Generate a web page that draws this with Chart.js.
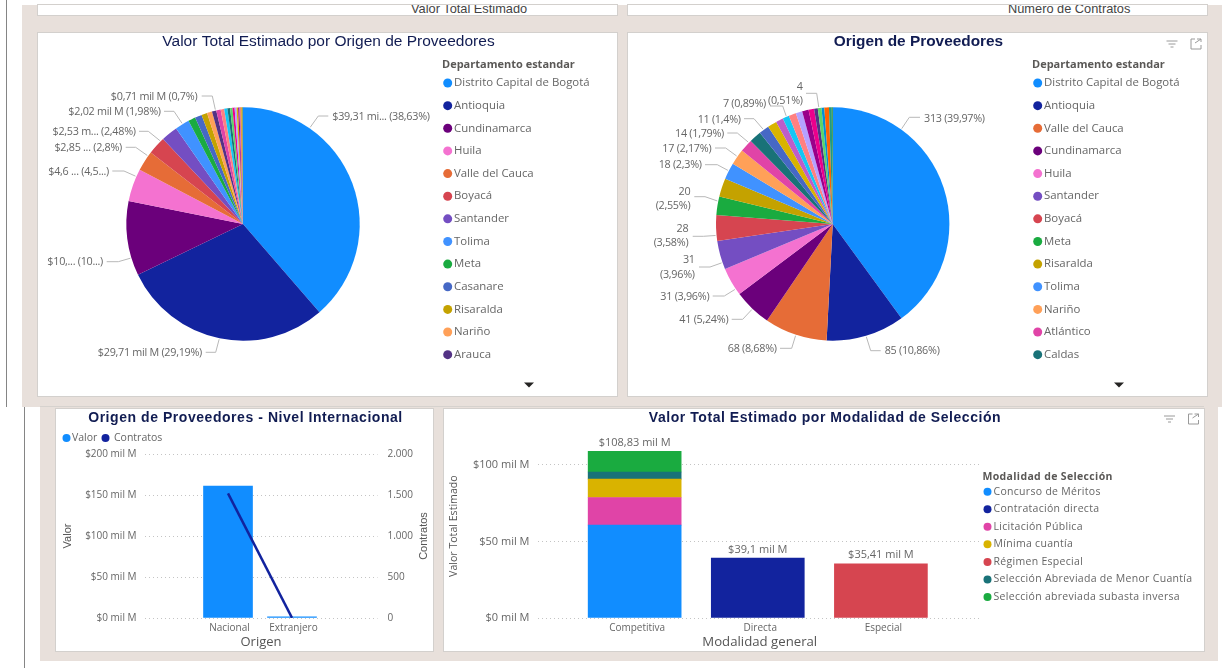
<!DOCTYPE html>
<html><head><meta charset="utf-8">
<script src="https://cdn.jsdelivr.net/npm/chart.js@4/dist/chart.umd.min.js"></script>
<style>
html,body{margin:0;padding:0;background:#fff;width:1225px;height:668px;overflow:hidden}
#stage{position:absolute;left:0;top:0;width:1225px;height:668px;overflow:hidden;filter:blur(.35px)}
.a{position:absolute}
.beige{background:#E8E0DB}
.panel{background:#fff;box-shadow:0 0 0 1px #d3d0cd}
canvas{position:absolute;left:0;top:0}
.stub{font:12.8px "Liberation Sans",Arial,sans-serif;color:#444;white-space:nowrap;overflow:hidden}
.stub span{position:absolute;top:-3px;line-height:13px}
</style></head><body>
<div id="stage">
  <div class="a" style="left:6px;top:0;width:1.4px;height:407px;background:#858585"></div>
  <div class="a" style="left:24px;top:407px;width:1.4px;height:261px;background:#858585"></div>
  <div class="a beige" style="left:22px;top:5px;width:1199.5px;height:402px"></div>
  <div class="a beige" style="left:40px;top:407px;width:1178px;height:254px"></div>
  <div class="a" style="left:40px;top:406px;width:1164px;height:1px;background:#d6d2ce"></div>
  <div class="a panel stub" style="left:38px;top:5px;width:579px;height:10px"><span id="stub1" style="left:373px"></span></div>
  <div class="a panel stub" style="left:628px;top:5px;width:579px;height:10px"><span id="stub2" style="left:380px"></span></div>
  <div class="a panel" style="left:38px;top:33px;width:579px;height:363px"><canvas id="pieA" width="579" height="363"></canvas></div>
  <div class="a panel" style="left:628px;top:33px;width:579px;height:363px"><canvas id="pieB" width="579" height="363"></canvas></div>
  <div class="a panel" style="left:55.5px;top:409px;width:377px;height:242px"><canvas id="combo" width="377" height="242"></canvas></div>
  <div class="a panel" style="left:443.5px;top:409px;width:760px;height:242px"><canvas id="stack" width="760" height="242"></canvas></div>
</div>
<script>
// ---------- data ----------
const stubTitles = ['Valor Total Estimado','Número de Contratos'];

const deptsA = ['Distrito Capital de Bogotá','Antioquia','Cundinamarca','Huila','Valle del Cauca','Boyacá','Santander','Tolima','Meta','Casanare','Risaralda','Nariño','Arauca'];
const valuesA = [39.31,29.71,10.53,4.6,2.85,2.53,2.34,2.02,1.02,0.97,0.81,0.71,0.61,0.62,0.5,0.45,0.38,0.33,0.3,0.27,0.22,0.18,0.14,0.12,0.1,0.08,0.06];
const colorsA = ['#118DFF','#12239E','#6B007B','#F472D0','#E66C37','#D64550','#744EC2','#4092FF','#1AAB40','#4668C5','#C4A200','#FFA058','#533285','#E044A7','#FF8080','#15C6F4','#197278','#5BD667','#EC008C','#B5A1FF','#D9B300','#99008A','#BE5DC9','#FF6300','#C4A200','#1F9A85','#99700A'];
const sliceLabelsA = ['$39,31 mi... (38,63%)','$29,71 mil M (29,19%)','$10,... (10...)','$4,6 ... (4,5...)','$2,85 ... (2,8%)','$2,53 m... (2,48%)','$2,02 mil M (1,98%)','$0,71 mil M (0,7%)'];

const deptsB = ['Distrito Capital de Bogotá','Antioquia','Valle del Cauca','Cundinamarca','Huila','Santander','Boyacá','Meta','Risaralda','Tolima','Nariño','Atlántico','Caldas'];
const valuesB = [313,85,68,41,31,31,28,20,20,18,17,14,13,11,10,8,7,8,7,7,6,4,4,3,5,3,1];
const colorsB = ['#118DFF','#12239E','#E66C37','#6B007B','#F472D0','#744EC2','#D64550','#1AAB40','#C4A200','#4092FF','#FFA058','#E044A7','#197278','#4668C5','#D9B300','#BE5DC9','#15C6F4','#FF8080','#B5A1FF','#99008A','#EC008C','#533285','#5BD667','#0091D5','#FF6300','#1F9A85','#25891C'];
const sliceLabelsB = [['313 (39,97%)'],['85 (10,86%)'],['68 (8,68%)'],['41 (5,24%)'],['31 (3,96%)'],['31','(3,96%)'],['28','(3,58%)'],['20','(2,55%)'],['18 (2,3%)'],['17 (2,17%)'],['14 (1,79%)'],['11 (1,4%)'],['7 (0,89%)'],['4','(0,51%)']];

const origins = ['Nacional','Extranjero'];
const originValor = [161,1.5];
const originContratos = [1520,2];

const modalGroups = ['Competitiva','Directa','Especial'];
const modalNames = ['Concurso de Méritos','Contratación directa','Licitación Pública','Mínima cuantía','Régimen Especial','Selección Abreviada de Menor Cuantía','Selección abreviada subasta inversa'];
const modalColors = ['#118DFF','#12239E','#E044A7','#D9B300','#D64550','#197278','#1AAB40'];
const modalGroupOf = [0,1,0,0,2,0,0];
const modalValues = [60.7,39.1,18,12,35.41,4.7,13.43];
const modalTotals = ['$108,83 mil M','$39,1 mil M','$35,41 mil M'];

// ---------- label layout (panel pixels) ----------
// [angle on the circle, elbow x, elbow y, line end x, text x, text y…]
const leaderA = [[34.8,280.3,83,290.3,294.3,84.3],[191.7,177.7,319.3,167.7,164,320.3],[253.1,80.3,228.7,68.7,65,229],[294,86,138,74.3,71,139.3],[305.6,97.7,114.3,87.7,84,115.3],[315.1,110.3,98.3,101,97.7,99.3],[328.8,136,78.3,126,122.7,79.3],[346.4,174.3,63,163.7,159.3,64.3]];
const leaderB = [[35.9,281.3,84.3,292,296,86],[163.4,242.7,317.7,252.7,256.7,318],[198.4,163.7,315.3,152,148.7,316.3],[223.4,114.7,286.3,103.7,100.3,287],[236.2,96.3,263,84.7,81.3,263.7],[250.7,82,234,71,66.7,227.3,241.7],[264.4,75.3,203.3,64.7,60.3,196,210.3],[281.3,77,163.7,66.3,62.3,159,173],[297.1,89.3,131.7,77,73.7,132],[305.3,97.7,115,87,83.3,116],[314.1,109.3,100,99.3,96,101],[323.7,126,85.7,116,112.7,86.7],[336.7,154.7,73,142,138,71],[353.2,188.7,60.3,178,174.7,54.3,68.3]];

// ---------- helpers ----------
const SANS='"Open Sans","Noto Sans",sans-serif', ARIAL='"Liberation Sans",Arial,sans-serif';
const GREY='#666666', NAVY='#111C52';
document.getElementById('stub1').textContent=stubTitles[0];
document.getElementById('stub2').textContent=stubTitles[1];
Chart.defaults.animation=false;
Chart.defaults.font.family=SANS;

function put(ctx,txt,x,y,font,color,align,spacing){
  ctx.save();ctx.font=font;ctx.fillStyle=color;ctx.textAlign=align||'left';ctx.textBaseline='middle';
  if(spacing)ctx.letterSpacing=spacing+'px';
  ctx.fillText(txt,x,y);ctx.restore();
}
function dot(ctx,x,y,r,c){ctx.save();ctx.fillStyle=c;ctx.beginPath();ctx.arc(x,y,r,0,Math.PI*2);ctx.fill();ctx.restore();}
function icons(ctx,fx,ex,y){
  ctx.save();ctx.strokeStyle='#9a9a9a';ctx.lineWidth=1;
  [5.5,3.5,1.5].forEach((w,i)=>{ctx.beginPath();ctx.moveTo(fx-w,y-3+i*3);ctx.lineTo(fx+w,y-3+i*3);ctx.stroke();});
  ctx.beginPath();ctx.moveTo(ex-1,y-5);ctx.lineTo(ex-5,y-5);ctx.lineTo(ex-5,y+5);ctx.lineTo(ex+5,y+5);ctx.lineTo(ex+5,y+1);
  ctx.moveTo(ex-1,y-1);ctx.lineTo(ex+5,y-5);ctx.moveTo(ex+1,y-5);ctx.lineTo(ex+5,y-5);ctx.lineTo(ex+5,y-2);ctx.stroke();
  ctx.restore();
}
const chrome={id:'chrome',afterDraw(chart,a,o){
  const c=chart.ctx;
  if(o.title)put(c,o.title,o.titleX,o.titleY,o.titleFont,NAVY,'center',o.titleSpacing);
  if(o.legend){const L=o.legend;
    if(L.head)put(c,L.head,L.x,L.y0,L.headFont,'#5a5856','left',L.headSpacing);
    L.items.forEach((t,i)=>{const y=L.y1+i*L.step;dot(c,L.x+L.dotDx,y,L.r,L.colors[i]);put(c,t,L.x+L.textDx,y,L.font,GREY,'left',L.spacing);});
  }
  if(o.more){c.save();c.fillStyle='#252423';c.beginPath();c.moveTo(o.more[0]-5,o.more[1]-2.5);c.lineTo(o.more[0]+5,o.more[1]-2.5);c.lineTo(o.more[0],o.more[1]+2.5);c.fill();c.restore();}
  if(o.icons)icons(c,...o.icons);
  if(o.extra)o.extra(chart,c);
}};
const leaders={id:'leaders',afterDatasetsDraw(chart,a,o){
  if(!o.items)return;
  const c=chart.ctx,arc=chart.getDatasetMeta(0).data[0],R=arc.outerRadius+1;
  c.save();
  o.items.forEach((L,i)=>{
    const t=L[0]*Math.PI/180,x=arc.x+R*Math.sin(t),y=arc.y-R*Math.cos(t);
    c.strokeStyle='#b8b8b8';c.lineWidth=1;c.beginPath();c.moveTo(x,y);c.lineTo(L[1],L[2]);c.lineTo(L[3],L[2]);c.stroke();
    const right=L[4]<L[3],lines=[].concat(o.texts[i]);
    lines.forEach((s,k)=>put(c,s,L[4],L[5+k],o.font,GREY,right?'right':'left',o.spacing));
  });
  c.restore();
}};
function pie(id,labels,values,colors,cx,cy,r,W,H,chromeOpts,leaderOpts){
  return new Chart(document.getElementById(id),{type:'pie',
    data:{labels,datasets:[{data:values,backgroundColor:colors,borderWidth:0}]},
    options:{responsive:false,
      layout:{padding:{left:cx-r,right:W-cx-r,top:cy-r,bottom:H-cy-r}},
      plugins:{legend:{display:false},tooltip:{enabled:false},chrome:chromeOpts,leaders:leaderOpts}},
    plugins:[leaders,chrome]});
}
const legendFont='11.4px '+SANS, labelFont='10.8px '+SANS;
const LEG={x:404,y0:31.5,headFont:'bold 11px '+SANS,y1:50,step:22.64,dotDx:5.7,textDx:12,r:4.5,font:legendFont};
pie('pieA',deptsA,valuesA,colorsA,205,191,116.7,579,363,
  {title:'Valor Total Estimado por Origen de Proveedores',titleX:290.5,titleY:9,titleFont:'15.5px '+ARIAL,
   legend:{...LEG,head:'Departamento estandar',items:deptsA,colors:colorsA},
   more:[491,352]},
  {items:leaderA,texts:sliceLabelsA,font:labelFont,spacing:-.28});
pie('pieB',deptsB,valuesB,colorsB,204.7,191,116.7,579,363,
  {title:'Origen de Proveedores',titleX:290.5,titleY:9,titleFont:'bold 15.4px '+ARIAL,
   legend:{...LEG,head:'Departamento estandar',items:deptsB,colors:colorsB},
   more:[491,352],icons:[544,568,11]},
  {items:leaderB,texts:sliceLabelsB,font:labelFont,spacing:-.28});

// combo chart
const grid={color:'#c4c4c4',lineWidth:1};
new Chart(document.getElementById('combo'),{type:'bar',
  data:{datasets:[
    {type:'line',label:'Contratos',yAxisID:'y2',order:0,borderColor:'#12239E',borderWidth:2.5,pointRadius:0,tension:0,
      data:originContratos.map((v,i)=>({x:i,y:v}))},
    {type:'bar',label:'Valor',yAxisID:'y',order:1,backgroundColor:'#118DFF',barThickness:49,
      data:originValor.map((v,i)=>({x:i,y:v}))}
  ]},
  options:{responsive:false,
    layout:{padding:{top:45}},
    plugins:{legend:{display:false},tooltip:{enabled:false},
      chrome:{title:'Origen de Proveedores - Nivel Internacional',titleX:189.5,titleY:9,titleFont:'bold 14px '+ARIAL,titleSpacing:.55,
        extra(chart,c){
          dot(c,10.5,29,4,'#118DFF');put(c,'Valor',16,29,'10.5px '+SANS,GREY);
          dot(c,49.5,29,4,'#12239E');put(c,'Contratos',58,29,'10.5px '+SANS,GREY);
          c.save();c.translate(367.5,127);c.rotate(-Math.PI/2);put(c,'Contratos',0,0,'11px "Liberation Sans Narrow","Liberation Sans",sans-serif','#555','center');c.restore();
        }}},
    scales:{
      x:{type:'linear',offset:false,min:-1.305,max:2.336,
        afterBuildTicks:s=>{s.ticks=origins.map((_,i)=>({value:i}));},
        afterFit:s=>{s.height=33;},
        grid:{display:false,drawTicks:false},border:{display:false},
        ticks:{padding:4,labelOffset:1.5,maxRotation:0,autoSkip:false,font:{size:10},color:GREY,callback:v=>origins[v]},
        title:{display:true,text:'Origen',font:{size:13},color:'#555',padding:{top:0,bottom:1}}},
      y:{position:'left',min:0,max:200,afterFit:s=>{s.width=88.5;},
        grid:{...grid,drawTicks:false},border:{display:false,dash:[1,3]},
        ticks:{stepSize:50,padding:8,font:{size:10},color:GREY,callback:v=>'$'+v+' mil M'},
        title:{display:true,text:'Valor',font:{size:11,family:ARIAL},color:'#555',padding:{top:5,bottom:0}}},
      y2:{position:'right',min:0,max:2000,afterFit:s=>{s.width=55.5;},
        grid:{display:false,drawTicks:false},border:{display:false},
        ticks:{stepSize:500,padding:10,font:{size:10},color:GREY,callback:v=>v.toLocaleString('de-DE')}}
    }},
  plugins:[chrome]});

// stacked bars
const totalLabels={id:'totalLabels',afterDatasetsDraw(chart){
  const y=chart.scales.y,x=chart.scales.x,c=chart.ctx;
  modalGroups.forEach((g,i)=>{
    let sum=0;modalValues.forEach((v,k)=>{if(modalGroupOf[k]===i)sum+=v;});
    put(c,modalTotals[i],x.getPixelForValue(i),y.getPixelForValue(sum)-8.5,'11px '+SANS,GREY,'center');
  });
}};
new Chart(document.getElementById('stack'),{type:'bar',
  data:{datasets:modalNames.map((n,k)=>({label:n,backgroundColor:modalColors[k],barThickness:93,
    data:[{x:modalGroupOf[k],y:modalValues[k]}]}))},
  options:{responsive:false,
    layout:{padding:{right:222.5,top:25.3}},
    plugins:{legend:{display:false},tooltip:{enabled:false},
      chrome:{title:'Valor Total Estimado por Modalidad de Selección',titleX:381,titleY:9,titleFont:'bold 14px '+ARIAL,titleSpacing:.55,
        icons:[725.5,749.5,10],
        legend:{head:'Modalidad de Selección',x:538.5,y0:67.7,headFont:'bold 10.5px '+SANS,headSpacing:.35,items:modalNames,colors:modalColors,y1:82.7,step:17.55,dotDx:5,textDx:11,r:4,font:'10.5px '+SANS,spacing:.3}}},
    scales:{
      x:{type:'linear',offset:false,stacked:true,min:-0.785,max:2.817,
        afterBuildTicks:s=>{s.ticks=modalGroups.map((_,i)=>({value:i}));},
        afterFit:s=>{s.height=33;},
        grid:{display:false,drawTicks:false},border:{display:false},
        ticks:{padding:4,labelOffset:2.5,maxRotation:0,autoSkip:false,font:{size:10},color:GREY,callback:v=>modalGroups[v]},
        title:{display:true,text:'Modalidad general',font:{size:13.2},color:'#555',padding:{top:0,bottom:1}}},
      y:{stacked:true,position:'left',min:0,max:120,afterFit:s=>{s.width=94;},
        grid:{...grid,drawTicks:false},border:{display:false,dash:[1,3]},
        ticks:{stepSize:50,includeBounds:false,padding:8.5,font:{size:11},color:GREY,callback:v=>'$'+v+' mil M'},
        title:{display:true,text:'Valor Total Estimado',font:{size:10.6},color:'#555',padding:{top:4,bottom:0}}}
    }},
  plugins:[totalLabels,chrome]});
</script>
</body></html>
